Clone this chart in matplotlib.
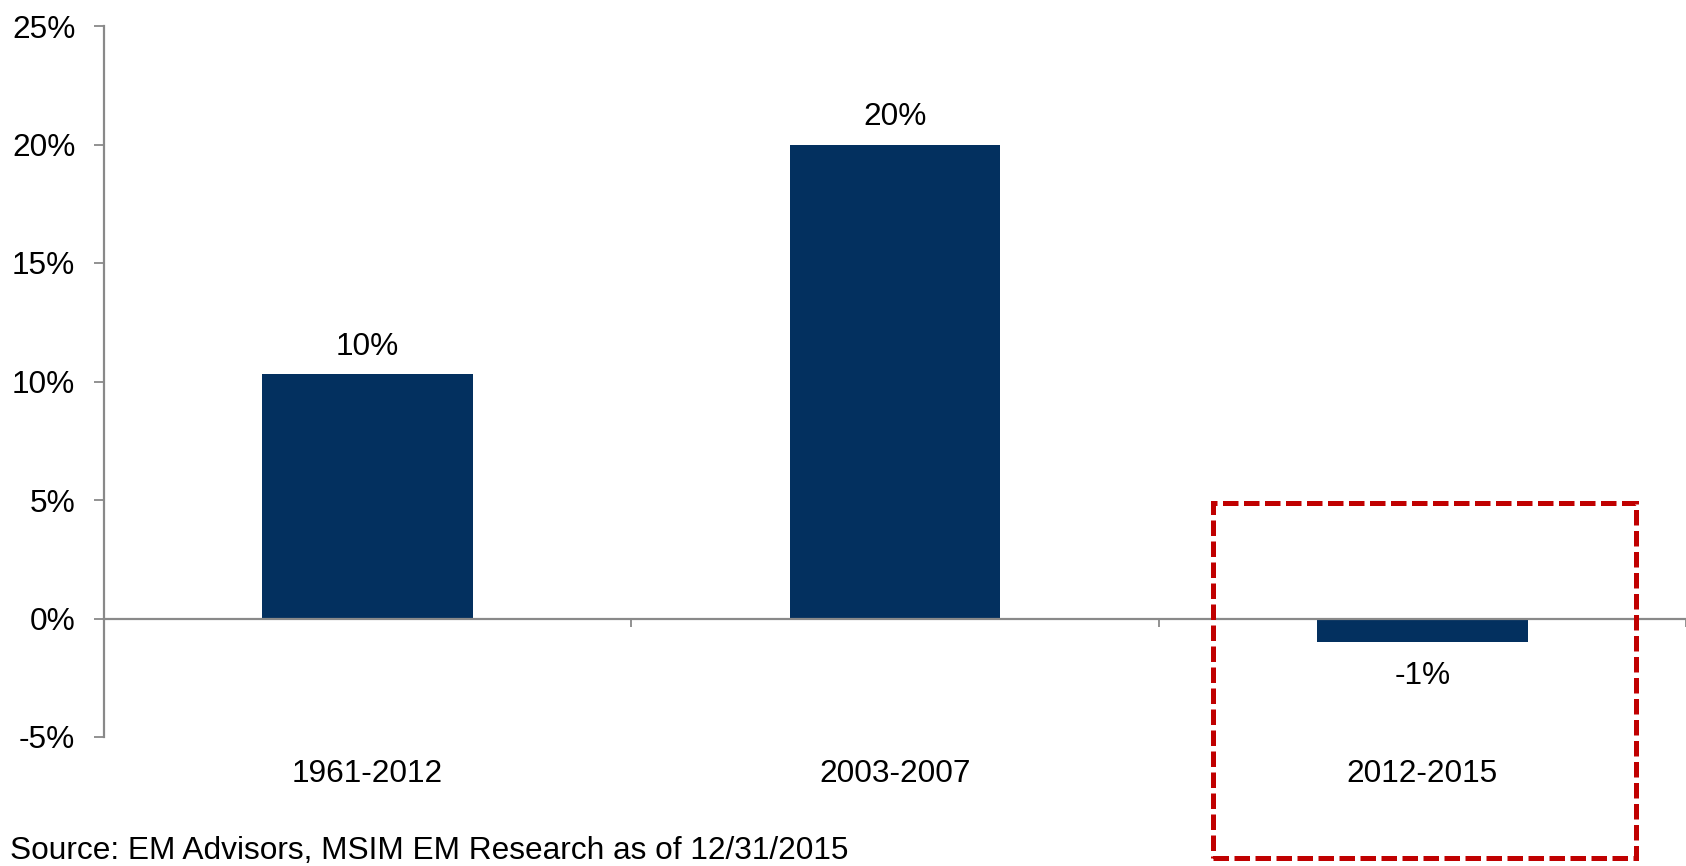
import matplotlib.pyplot as plt
from matplotlib.patches import Rectangle
from matplotlib.ticker import FuncFormatter

# Daten
periods = ['1961-2012', '2003-2007', '2012-2015']
growth = [10.3, 20.0, -1.0]
labels = ['10%', '20%', '-1%']
source = 'Source: EM Advisors, MSIM EM Research as of 12/31/2015'

plt.rcParams['font.family'] = ['Liberation Sans', 'DejaVu Sans']
navy = '#03305F'
grey = '#898989'
fs = 22.8

fig = plt.figure(figsize=(16.86, 8.66), dpi=100)
ax = fig.add_axes([104 / 1686, 1 - 737 / 866, 1 - 104 / 1686, (737 - 26) / 866])

x = list(range(len(periods)))
bars = ax.bar(x, growth, width=0.4, color=navy, zorder=2)

for b, val, lab in zip(bars, growth, labels):
    cx = b.get_x() + b.get_width() / 2
    if val >= 0:
        ax.annotate(lab, (cx, val), xytext=(0, 20), textcoords='offset points',
                    ha='center', va='center', fontsize=fs)
    else:
        ax.annotate(lab, (cx, val), xytext=(0, -24), textcoords='offset points',
                    ha='center', va='center', fontsize=fs)

# Kategorienamen unterhalb der Achse
for i, p in enumerate(periods):
    ax.annotate(p, (i, -5), xytext=(0, -26.5), textcoords='offset points',
                ha='center', va='center', fontsize=fs, annotation_clip=False)

ax.set_xlim(-0.5, len(periods) - 0.5)
ax.set_ylim(-5, 25)
ax.set_yticks(range(-5, 30, 5))
ax.yaxis.set_major_formatter(FuncFormatter(lambda v, _: f'{v:.0f}%'))
ax.tick_params(axis='y', length=7.2, width=1.3, color=grey, pad=13.5, labelsize=fs)

# x-Achse bei 0
ax.spines['bottom'].set_position(('data', 0))
ax.set_xticks([i - 0.5 for i in range(len(periods) + 1)])
ax.set_xticklabels([])
ax.tick_params(axis='x', length=6, width=1.3, color=grey, direction='out')
for s in ['top', 'right']:
    ax.spines[s].set_visible(False)
for s in ['left', 'bottom']:
    ax.spines[s].set_color(grey)
    ax.spines[s].set_linewidth(1.6)

# rote gestrichelte Markierung
rect = Rectangle((1213 / 1686, 1 - 858 / 866), (1636 - 1213) / 1686, (858 - 503) / 866,
                 transform=fig.transFigure, fill=False, edgecolor='#C00000',
                 linewidth=3.6, linestyle=(0, (3.1, 1.1)), zorder=5)
fig.patches.append(rect)

fig.text(0.006, 0.0, source, fontsize=fs, ha='left', va='bottom')

fig.savefig('out.png', dpi=100)
